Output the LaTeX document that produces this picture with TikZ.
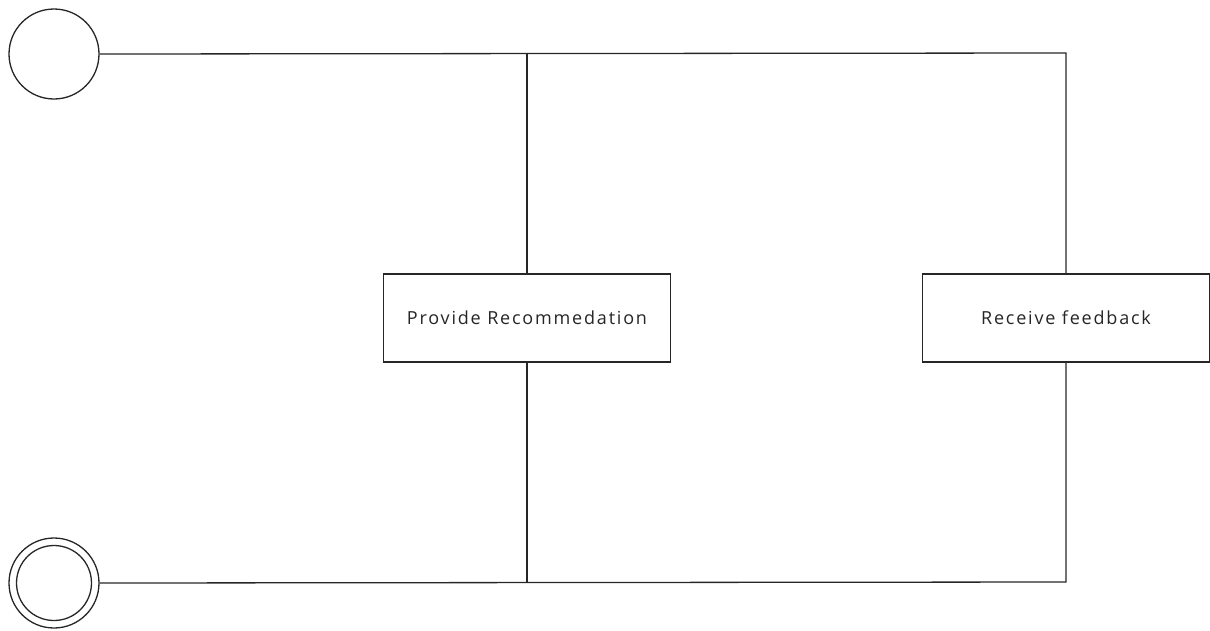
\documentclass[tikz,border=0pt]{standalone}
\usepackage{fontspec}
\setmainfont{Open Sans}
\newfontfamily\boxfont[LetterSpace=10]{Open Sans}
\begin{document}
\begin{tikzpicture}[x=1pt,y=-1pt,
  line/.style={draw=black!85,line width=1.3pt},
  task/.style={line,fill=white,minimum width=287pt,minimum height=88pt,inner sep=0pt,
    font=\boxfont\fontsize{18}{21}\selectfont,text=black!85},
  startnode/.style={line,circle,minimum size=90pt,inner sep=0pt},
  endnode/.style={line,circle,minimum size=90pt,inner sep=0pt}]
  \useasboundingbox (0,0) rectangle (1210,630);
  \node[startnode] (start) at (54,54) {};
  \node[endnode] (stop) at (54,583) {};
  \draw[line] (stop.center) circle[radius=37.5pt];
  \node[task] (rec) at (527,318) {Provide Recommedation};
  \node[task] (fb) at (1066,318) {Receive feedback};
  \coordinate (tr) at (1066,53);
  \coordinate (br) at (1066,582);
  \coordinate (tm) at (527,53);
  \coordinate (bm) at (527,582);
  \draw[line] (start.east) -- (tr) -- (fb.north);
  \draw[line] (fb.south) -- (br) -- (stop.east);
  \draw[line] (tm) -- (rec.north);
  \draw[line] (rec.south) -- (bm);
\end{tikzpicture}
\end{document}
